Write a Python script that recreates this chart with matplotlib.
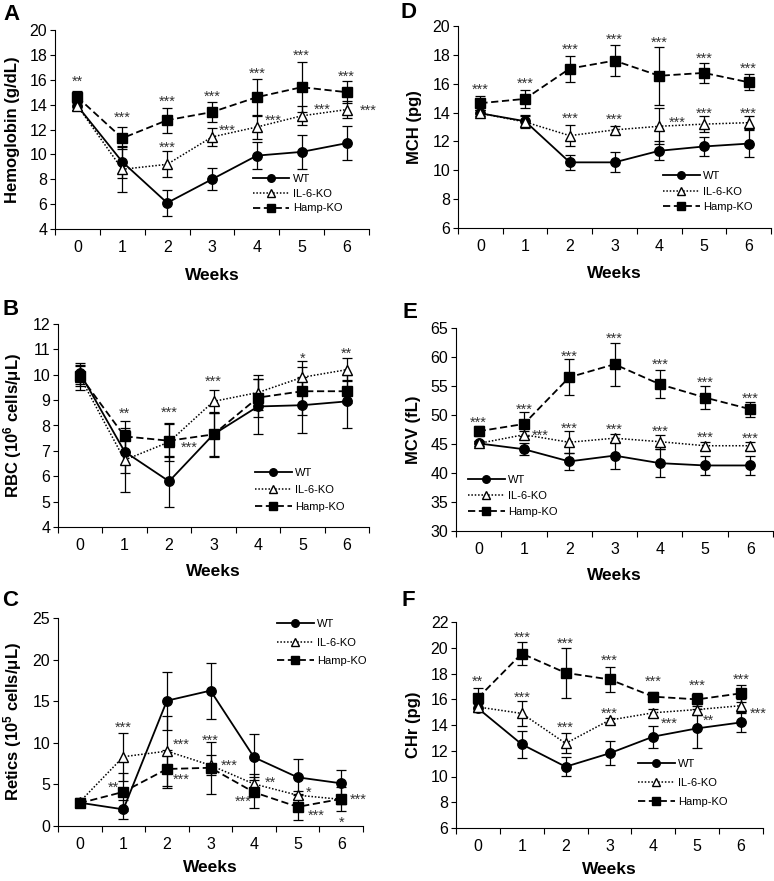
import matplotlib
matplotlib.use('Agg')
import matplotlib.pyplot as plt
from matplotlib.ticker import FixedLocator

plt.rcParams['font.family'] = ['Liberation Sans', 'DejaVu Sans']
plt.rcParams['mathtext.fontset'] = 'custom'
plt.rcParams['mathtext.rm'] = 'Liberation Sans'
plt.rcParams['mathtext.bf'] = 'Liberation Sans:bold'

weeks = [0, 1, 2, 3, 4, 5, 6]
groups = ['WT', 'IL-6-KO', 'Hamp-KO']

# A: hemoglobin (g/dL)
hgb_wt = [13.9, 9.4, 6.1, 8.0, 9.9, 10.2, 10.9]
hgb_wt_sd = [0.3, 1.3, 1.05, 0.9, 1.1, 1.35, 1.35]
hgb_il6 = [13.9, 8.8, 9.2, 11.4, 12.2, 13.1, 13.6]
hgb_il6_sd = [0.3, 1.8, 1.05, 0.7, 1.0, 0.75, 0.7]
hgb_hamp = [14.6, 11.3, 12.75, 13.4, 14.6, 15.4, 15.0]
hgb_hamp_sd = [0.5, 0.9, 1.0, 0.8, 1.5, 2.0, 0.9]
hgb_sig = [(0, 16.2, '**'), (1, 13.3, '***'), (2, 14.6, '***'), (2, 10.9, '***'),
           (3, 15.0, '***'), (3.35, 12.2, '***'), (4, 16.8, '***'), (4.36, 13.0, '***'),
           (5, 18.3, '***'), (5.46, 13.9, '***'), (6, 16.6, '***'), (6.48, 13.8, '***')]

# B: RBC (10^6 cells/uL)
rbc_wt = [10.05, 6.97, 5.8, 7.65, 8.75, 8.8, 8.95]
rbc_wt_sd = [0.4, 0.85, 1.0, 0.85, 1.1, 1.1, 1.05]
rbc_il6 = [9.9, 6.64, 7.35, 8.95, 9.3, 9.9, 10.2]
rbc_il6_sd = [0.5, 1.25, 0.75, 0.45, 0.7, 0.65, 0.45]
rbc_hamp = [9.95, 7.57, 7.4, 7.65, 9.1, 9.35, 9.35]
rbc_hamp_sd = [0.4, 0.6, 0.65, 0.9, 0.75, 0.95, 0.45]
rbc_sig = [(1, 8.64, '**'), (2, 8.68, '***'), (2.46, 7.27, '***'), (3, 9.9, '***'),
           (5, 10.8, '*'), (6, 11.0, '**')]

# C: reticulocytes (10^5 cells/uL)
ret_wt = [2.8, 2.0, 15.06, 16.27, 8.25, 5.85, 5.13]
ret_wt_sd = [0.5, 1.15, 3.5, 3.35, 2.75, 2.15, 1.6]
ret_il6 = [2.9, 8.33, 9.0, 7.3, 5.05, 3.7, 3.2]
ret_il6_sd = [0.5, 2.9, 4.25, 1.2, 1.2, 0.5, 0.4]
ret_hamp = [2.75, 4.1, 6.85, 7.0, 4.05, 2.3, 3.25]
ret_hamp_sd = [0.5, 2.3, 2.3, 3.1, 1.85, 1.6, 1.4]
ret_sig = [(1, 12.3, '***'), (0.78, 5.1, '**'), (2.32, 10.3, '***'), (2.32, 6.1, '***'),
           (3, 10.8, '***'), (3.43, 7.7, '***'), (4.38, 5.7, '**'), (3.75, 3.45, '***'),
           (5.25, 4.5, '*'), (5.42, 1.7, '***'), (6.38, 3.7, '***'), (6.0, 0.9, '*')]

# D: MCH (pg)
mch_wt = [13.95, 13.4, 10.55, 10.55, 11.35, 11.65, 11.85]
mch_wt_sd = [0.2, 0.4, 0.5, 0.7, 0.65, 0.65, 0.95]
mch_il6 = [13.95, 13.35, 12.4, 12.8, 13.05, 13.2, 13.3]
mch_il6_sd = [0.2, 0.4, 0.75, 0.3, 1.25, 0.55, 0.45]
mch_hamp = [14.65, 14.95, 17.05, 17.6, 16.55, 16.75, 16.1]
mch_hamp_sd = [0.5, 0.6, 0.9, 1.05, 2.0, 0.7, 0.55]
mch_sig = [(0, 15.85, '***'), (1, 16.26, '***'), (2, 18.64, '***'), (2, 13.84, '***'),
           (3, 19.3, '***'), (3, 13.8, '***'), (4, 19.15, '***'), (4.4, 13.6, '***'),
           (5, 18.0, '***'), (5, 14.2, '***'), (6, 17.3, '***'), (6, 14.2, '***')]

# E: MCV (fL)
mcv_wt = [45.1, 44.1, 42.0, 43.0, 41.7, 41.3, 41.3]
mcv_wt_sd = [0.5, 1.0, 1.5, 2.3, 2.45, 1.7, 1.7]
mcv_il6 = [45.1, 46.6, 45.3, 46.0, 45.4, 44.7, 44.7]
mcv_il6_sd = [0.5, 0.7, 1.9, 0.7, 1.2, 0.7, 0.7]
mcv_hamp = [47.2, 48.45, 56.5, 58.75, 55.3, 53.0, 51.0]
mcv_hamp_sd = [0.9, 2.1, 3.1, 3.75, 2.45, 2.0, 1.3]
mcv_sig = [(0, 49.4, '***'), (1, 51.6, '***'), (1.35, 47.2, '***'), (2, 60.75, '***'),
           (2, 48.3, '***'), (3, 63.8, '***'), (3, 48.1, '***'), (4, 59.4, '***'),
           (4, 47.9, '***'), (5, 56.2, '***'), (5, 46.8, '***'), (6, 53.45, '***'),
           (6, 46.7, '***')]

# F: CHr (pg)
chr_wt = [15.3, 12.5, 10.76, 11.8, 13.1, 13.74, 14.2]
chr_wt_sd = [0.3, 1.05, 0.72, 0.93, 0.85, 1.5, 0.77]
chr_il6 = [15.4, 14.9, 12.57, 14.38, 14.95, 15.2, 15.5]
chr_il6_sd = [0.3, 0.95, 0.78, 0.2, 0.3, 0.4, 0.5]
chr_hamp = [16.1, 19.55, 18.05, 17.54, 16.2, 15.99, 16.46]
chr_hamp_sd = [0.8, 0.88, 1.95, 1.0, 0.35, 0.5, 0.65]
chr_sig = [(0, 17.7, '**'), (1, 21.1, '***'), (1, 16.4, '***'), (2, 20.6, '***'),
           (2, 14.1, '***'), (3, 19.3, '***'), (3, 15.2, '***'), (4, 17.7, '***'),
           (4.36, 14.4, '***'), (5, 17.36, '***'), (5.25, 14.65, '**'), (6, 17.8, '***'),
           (6.4, 15.16, '***')]

W, H = 774, 881
fig = plt.figure(figsize=(W / 100, H / 100), dpi=100)

styles = [
    dict(ls='-', lw=1.3, marker='o', ms=6.8, mfc='black', mec='black'),
    dict(ls=(0, (1, 1.2)), lw=1.1, marker='^', ms=7.2, mfc='white', mec='black', mew=1.0),
    dict(ls=(0, (4, 2)), lw=1.3, marker='s', ms=6.8, mfc='black', mec='black'),
]

SIG_FS = 10.5


def draw_panel(box, letter, letter_xy, ylabel, ylabel_x, ylim, ystep, series, sigs,
               leg_xy, leg_space, weeks_dy):
    l, r, t, b = box
    ax = fig.add_axes([l / W, 1 - b / H, (r - l) / W, (b - t) / H])
    for (vals, sd), st, name in zip(series, styles, groups):
        ax.errorbar(weeks, vals, yerr=sd, fmt='none', ecolor='black', elinewidth=0.9,
                    capsize=3.6, capthick=0.9, zorder=2)
    for (vals, sd), st, name in zip(series, styles, groups):
        ax.plot(weeks, vals, color='black', label=name, zorder=3, **st)
    # significance stars, centred on the given point
    for x, y, s in sigs:
        ax.annotate(s, (x, y), xytext=(0, -0.56 * SIG_FS), textcoords='offset points',
                    ha='center', va='baseline', fontsize=SIG_FS, color='#333333')

    ax.set_xlim(-0.5, 6.5)
    ax.set_ylim(*ylim)
    ax.set_yticks([ylim[0] + i * ystep for i in range(int(round((ylim[1] - ylim[0]) / ystep)) + 1)])
    ax.set_xticks(weeks)
    ax.xaxis.set_minor_locator(FixedLocator([w - 0.5 for w in weeks] + [6.5]))
    ax.tick_params(axis='x', which='major', length=0, pad=8, labelsize=11.5)
    ax.tick_params(axis='x', which='minor', length=4, width=0.8, direction='out')
    ax.tick_params(axis='y', length=3.5, width=0.8, pad=2, labelsize=11.5, direction='out')
    for sp in ['top', 'right']:
        ax.spines[sp].set_visible(False)
    for sp in ['left', 'bottom']:
        ax.spines[sp].set_linewidth(0.8)

    ax.set_xlabel('Weeks', fontsize=12.5, fontweight='bold', va='center')
    ax.xaxis.set_label_coords(0.5, -weeks_dy / (b - t))
    ax.set_ylabel(ylabel, fontsize=12, fontweight='bold', va='center')
    ax.yaxis.set_label_coords((ylabel_x - l) / (r - l), 0.5)

    fig.text(letter_xy[0] / W, 1 - letter_xy[1] / H, letter, fontsize=16,
             fontweight='bold', ha='center', va='center')

    ax.legend(loc='upper left', bbox_to_anchor=leg_xy, frameon=False, fontsize=8,
              handlelength=3.3, handletextpad=0.3, labelspacing=leg_space,
              borderpad=0, borderaxespad=0, numpoints=1, markerscale=0.8)
    return ax


draw_panel((55, 369, 30, 229), 'A', (11.5, 14.5), 'Hemoglobin (g/dL)', 12.5, (4, 20), 2,
           [(hgb_wt, hgb_wt_sd), (hgb_il6, hgb_il6_sd), (hgb_hamp, hgb_hamp_sd)], hgb_sig,
           (0.63, 0.276), 0.42, 46)
draw_panel((58, 369, 324, 527), 'B', (11, 310), r'RBC ($\mathbf{10^6}$ cells/μL)', 13, (4, 12), 1,
           [(rbc_wt, rbc_wt_sd), (rbc_il6, rbc_il6_sd), (rbc_hamp, rbc_hamp_sd)], rbc_sig,
           (0.633, 0.291), 0.65, 45)
draw_panel((58, 363, 618, 826), 'C', (10, 601), r'Retics ($\mathbf{10^5}$ cells/μL)', 12.5, (0, 25), 5,
           [(ret_wt, ret_wt_sd), (ret_il6, ret_il6_sd), (ret_hamp, ret_hamp_sd)], ret_sig,
           (0.718, 0.995), 0.77, 41)
draw_panel((458, 771, 26, 228), 'D', (408, 12.5), 'MCH (pg)', 414, (6, 20), 2,
           [(mch_wt, mch_wt_sd), (mch_il6, mch_il6_sd), (mch_hamp, mch_hamp_sd)], mch_sig,
           (0.655, 0.282), 0.5, 45)
draw_panel((456, 773, 328, 531), 'E', (410, 312), 'MCV (fL)', 413, (30, 65), 5,
           [(mcv_wt, mcv_wt_sd), (mcv_il6, mcv_il6_sd), (mcv_hamp, mcv_hamp_sd)], mcv_sig,
           (0.038, 0.276), 0.55, 44)
draw_panel((456, 763, 622, 828), 'F', (408, 600), 'CHr (pg)', 413, (6, 22), 2,
           [(chr_wt, chr_wt_sd), (chr_il6, chr_il6_sd), (chr_hamp, chr_hamp_sd)], chr_sig,
           (0.593, 0.335), 0.8, 42)

fig.savefig('out.png', dpi=100)
